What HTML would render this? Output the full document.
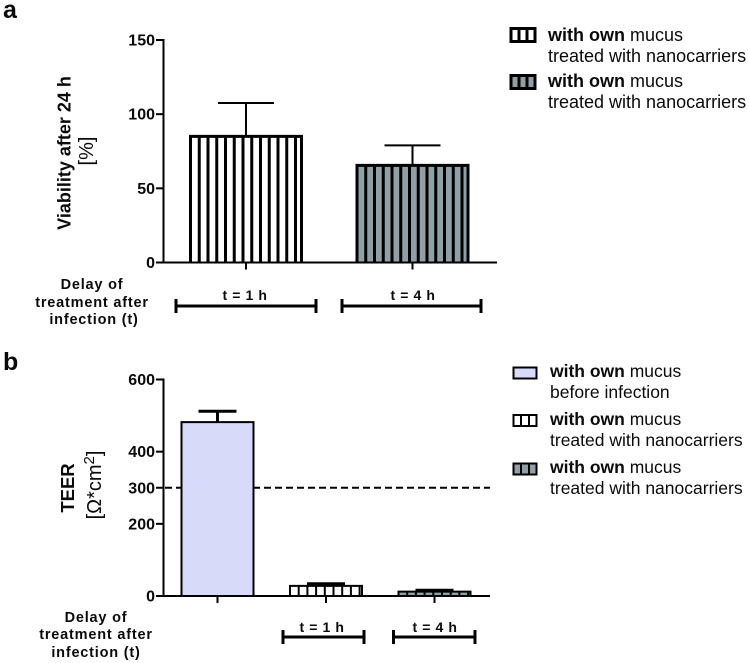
<!DOCTYPE html>
<html lang="en">
<head>
<meta charset="utf-8">
<title>Viability and TEER charts</title>
<style>
html,body{margin:0;padding:0;background:#fff;width:749px;height:663px;overflow:hidden}
svg{display:block;font-family:"Liberation Sans",sans-serif;color:#000}
text{fill:#0a0a0a}
.tick{font-size:16px;font-weight:700;text-anchor:end}
.ttl{font-size:18px;font-weight:700;text-anchor:middle}
.sub{font-size:20px;text-anchor:middle}
.dl{font-size:14.5px;font-weight:700;text-anchor:middle;letter-spacing:.8px}
.tl{font-size:14px;font-weight:700;text-anchor:middle;letter-spacing:.6px}
.lg{font-size:18px}
.lgb{font-size:17.5px}
.pl{font-size:25px;font-weight:700}
</style>
</head>
<body>
<svg id="chart" width="749" height="663" viewBox="0 0 749 663" xmlns="http://www.w3.org/2000/svg">
<text class="pl" x="3" y="18">a</text>
<text class="pl" x="3" y="370">b</text>

<text class="ttl" transform="translate(70.5,153) rotate(-90)">Viability after 24 h</text>
<text class="sub" transform="translate(93,151) rotate(-90)">[%]</text>
<text class="ttl" transform="translate(74,488) rotate(-90)" style="font-size:18.5px">TEER</text>
<text class="sub" transform="translate(101,485) rotate(-90)">[&#937;*cm<tspan dy="-7" font-size="15">2</tspan><tspan dy="7">]</tspan></text>

<g>
<text class="dl" x="92" y="289">Delay of</text>
<text class="dl" x="92" y="307">treatment after</text>
<text class="dl" x="94" y="324">infection (t)</text>
</g>
<g>
<text class="dl" x="96" y="622">Delay of</text>
<text class="dl" x="96" y="639">treatment after</text>
<text class="dl" x="96" y="657">infection (t)</text>
</g>

<g>
<g>
<rect x="511" y="28.5" width="24" height="13" fill="#fff" stroke="#000" stroke-width="3"/>
<path d="M519 28v14M527 28v14" stroke="#000" stroke-width="3"/>
<text class="lg" x="548" y="41"><tspan font-weight="700">with own</tspan> mucus</text>
<text class="lg" x="548" y="62">treated with nanocarriers</text>
</g>
<g>
<rect x="511" y="75.5" width="24" height="13" fill="#8fa1a7" stroke="#000" stroke-width="3"/>
<path d="M519 75v14M527 75v14" stroke="#000" stroke-width="3"/>
<text class="lg" x="548" y="87"><tspan font-weight="700">with own</tspan> mucus</text>
<text class="lg" x="548" y="108">treated with nanocarriers</text>
</g>
</g>
<g>
<g>
<rect x="513.5" y="367.5" width="23" height="11" fill="#d8daf9" stroke="#000" stroke-width="2"/>
<text class="lgb" x="550" y="377"><tspan font-weight="700">with own</tspan> mucus</text>
<text class="lgb" x="550" y="398">before infection</text>
</g>
<g>
<rect x="513.5" y="415" width="23" height="11" fill="#fff" stroke="#000" stroke-width="2"/>
<path d="M521 414v13M529 414v13" stroke="#000" stroke-width="2"/>
<text class="lgb" x="550" y="425"><tspan font-weight="700">with own</tspan> mucus</text>
<text class="lgb" x="550" y="446">treated with nanocarriers</text>
</g>
<g>
<rect x="513.5" y="463.5" width="23" height="11" fill="#8fa1a7" stroke="#000" stroke-width="2"/>
<path d="M521 463v12M529 463v12" stroke="#000" stroke-width="2"/>
<text class="lgb" x="550" y="473"><tspan font-weight="700">with own</tspan> mucus</text>
<text class="lgb" x="550" y="494">treated with nanocarriers</text>
</g>
</g>

<g>
<path d="M176 306H316M176 299v14M316 299v14" stroke="#000" stroke-width="3" fill="none"/>
<text class="tl" x="245" y="300">t = 1 h</text>
</g>
<g>
<path d="M342 306H481M342 299v14M481 299v14" stroke="#000" stroke-width="3" fill="none"/>
<text class="tl" x="413" y="300">t = 4 h</text>
</g>
<g>
<path d="M283 637H364M283 630v14M364 630v14" stroke="#000" stroke-width="3" fill="none"/>
<text class="tl" x="322" y="632">t = 1 h</text>
</g>
<g>
<path d="M393.500 637H475M393.500 630v14M475 630v14" stroke="#000" stroke-width="3" fill="none"/>
<text class="tl" x="435" y="632">t = 4 h</text>
</g>
<g id="plots"></g>
</svg>
<script>
// Panel a data
const viabilityTicks = [0, 50, 100, 150];
const viabilityMeans = [85, 65.5];
const viabilityErrorTops = [107.5, 79];
const viabilityFills = ['#ffffff', '#8fa1a7'];
const viabilityNames = ['t-1h', 't-4h'];

// Panel b data
const teerTicks = [0, 200, 300, 400, 600];
const teerMeans = [482, 28, 12];
const teerErrorTops = [512, 34, 16];
const teerFills = ['#d8daf9', '#ffffff', '#8fa1a7'];
const teerNames = ['before-infection', 't-1h', 't-4h'];
const teerStriped = [false, true, true];
const teerThreshold = 300;

const NS = 'http://www.w3.org/2000/svg';
const root = document.getElementById('plots');

function mk(tag, attrs, parent) {
  const el = document.createElementNS(NS, tag);
  for (const k in attrs) el.setAttribute(k, attrs[k]);
  parent.appendChild(el);
  return el;
}

function yScale(y0, y1, vMax) {
  return v => y0 - (v / vMax) * (y0 - y1);
}

function drawBar(g, o) {
  const top = o.y(o.value), base = o.y(0), errTop = o.y(o.err);
  const cx = o.x + o.w / 2;
  mk('line', {x1: cx, x2: cx, y1: top, y2: errTop, stroke: '#000', 'stroke-width': o.errW}, g);
  mk('line', {x1: cx - o.cap, x2: cx + o.cap, y1: errTop, y2: errTop, stroke: '#000', 'stroke-width': o.errW}, g);
  mk('rect', {x: o.x, y: top, width: o.w, height: base - top, fill: o.fill}, g);
  if (o.striped) {
    for (let sx = o.x + o.gap; sx < o.x + o.w - 2; sx += o.gap) {
      mk('line', {x1: sx, x2: sx, y1: top, y2: base, stroke: '#000', 'stroke-width': o.sw}, g);
    }
  }
  mk('path', {d: 'M' + o.x + ' ' + base + 'V' + top + 'H' + (o.x + o.w) + 'V' + base, fill: 'none', stroke: '#000', 'stroke-width': o.bw}, g);
}

function drawAxes(g, ticks, y, xTicks, xEnd) {
  const base = y(0), max = y(ticks[ticks.length - 1]);
  mk('line', {x1: 163.5, x2: 163.5, y1: max - 1, y2: base, stroke: '#000', 'stroke-width': 2}, g);
  mk('line', {x1: 156, x2: xEnd, y1: base, y2: base, stroke: '#000', 'stroke-width': 2}, g);
  ticks.forEach(t => {
    const tk = mk('line', {x1: 156, x2: 163.5, y1: y(t), y2: y(t), stroke: '#000', 'stroke-width': 2}, g);
    
    
    const lb = mk('text', {class: 'tick', x: 155, y: y(t) + 5.5}, g);
    lb.textContent = t;
    
    
  });
  xTicks.forEach(x => {
    const tk = mk('line', {x1: x, x2: x, y1: base, y2: base + 7, stroke: '#000', 'stroke-width': 2}, g);
    
    
  });
}

// Panel a
const gA = mk('g', {}, root);


const yA = yScale(262.5, 40, 150);
const bandA = i => 190.5 + i * 166.5;
viabilityMeans.forEach((v, i) => {
  const b = mk('g', {}, gA);
  
  
  drawBar(b, {x: bandA(i), w: 111, y: yA, value: v, err: viabilityErrorTops[i], fill: viabilityFills[i],
    striped: true, gap: 8.75, sw: 3, bw: 3, errW: 2, cap: 28});
});
drawAxes(gA, viabilityTicks, yA, viabilityMeans.map((v, i) => bandA(i) + 55.5), 497);

// Panel b
const gB = mk('g', {}, root);


const yB = yScale(596, 379.5, 600);
const bandB = i => 181.5 + i * 108.5;
const dash = mk('line', {x1: 165, x2: 490, y1: yB(teerThreshold), y2: yB(teerThreshold), stroke: '#000', 'stroke-width': 2, 'stroke-dasharray': '7 4'}, gB);


teerMeans.forEach((v, i) => {
  const b = mk('g', {}, gB);
  
  
  drawBar(b, {x: bandB(i), w: 72, y: yB, value: v, err: teerErrorTops[i], fill: teerFills[i],
    striped: teerStriped[i], gap: 8.7, sw: 2, bw: 2, errW: 3, cap: 19});
});
drawAxes(gB, teerTicks, yB, teerMeans.map((v, i) => bandB(i) + 36), 490);
</script>
</body>
</html>
